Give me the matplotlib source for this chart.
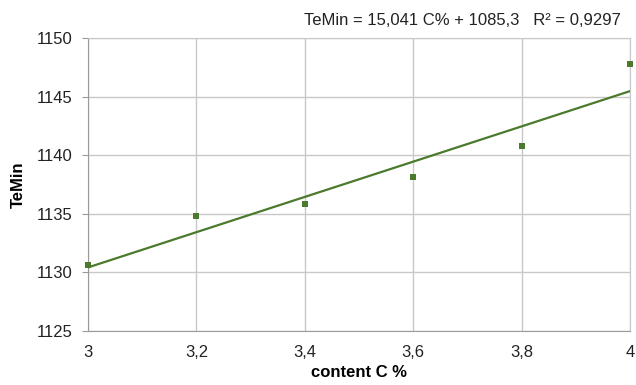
import numpy as np
import matplotlib.pyplot as plt
from matplotlib.ticker import FuncFormatter

plt.rcParams['font.family'] = ['Liberation Sans', 'DejaVu Sans']

# Data
content_c = [3.0, 3.2, 3.4, 3.6, 3.8, 4.0]
te_min = [1130.6, 1134.85, 1135.8, 1138.15, 1140.75, 1147.75]
slope = 15.041
intercept = 1085.3

green = '#4b7a2c'

fig = plt.figure(figsize=(6.36, 3.85), dpi=100)
ax = fig.add_axes([0.1384, 0.1403, 0.852, 0.761])

x_fit = np.array([content_c[0], content_c[-1]])
ax.plot(x_fit, slope * x_fit + intercept, color=green, lw=1.6, zorder=3)
ax.plot(content_c, te_min, 's', color=green, ms=4, mew=0, zorder=4, clip_on=False)

ax.set_xlim(3, 4)
ax.set_ylim(1125, 1150)
ax.set_xticks(np.arange(3, 4.01, 0.2))
ax.set_yticks(np.arange(1125, 1151, 5))
ax.xaxis.set_major_formatter(FuncFormatter(lambda v, p: ('%g' % round(v, 1)).replace('.', ',')))
ax.grid(True, color='#c8c8c8', lw=1)
ax.set_axisbelow(True)

for s in ['top', 'right']:
    ax.spines[s].set_color('#c8c8c8')
for s in ['left', 'bottom']:
    ax.spines[s].set_color('#9a9a9a')
ax.tick_params(axis='both', labelsize=12, colors='#222222', length=4, color='#9a9a9a')
ax.tick_params(axis='y', pad=7)
ax.tick_params(axis='x', length=0, pad=10)

ax.set_xlabel('content C %', fontsize=12, fontweight='bold', labelpad=4)
ax.set_ylabel('TeMin', fontsize=12, fontweight='bold', labelpad=8)

fig.text(0.977, 0.948, 'TeMin = 15,041 C% + 1085,3   R² = 0,9297',
         ha='right', va='center', fontsize=12, color='#222222')

fig.savefig('out.png', dpi=100)
